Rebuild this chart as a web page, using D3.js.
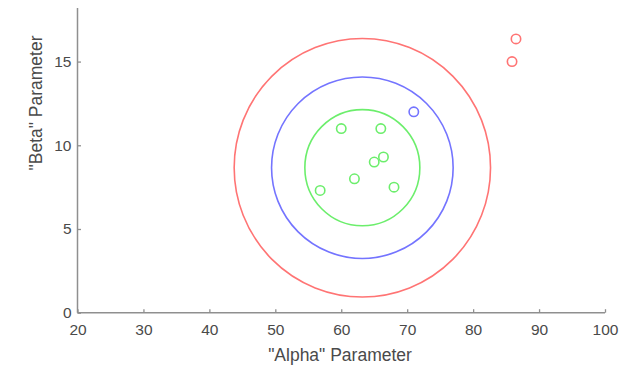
<!DOCTYPE html>
<html>
<head>
<meta charset="utf-8">
<script src="https://cdn.jsdelivr.net/npm/d3@7"></script>
<style>
  html, body { margin: 0; padding: 0; background: #fff; }
  svg { display: block; font-family: "Liberation Sans", Arial, sans-serif; }
</style>
</head>
<body>
<svg id="chart" width="628" height="365"></svg>
<script>
// Sample points, grouped by the contour they fall inside
const greenAlpha = [60.0, 66.0, 66.4, 65.0, 62.0, 56.8, 68.0];
const greenBeta  = [11.0, 11.0, 9.3, 9.0, 8.0, 7.3, 7.5];
const blueAlpha  = [71.0];
const blueBeta   = [12.0];
const redAlpha   = [86.5, 85.9];
const redBeta    = [16.35, 15.0];

// Contour ellipses around the mean (alpha, beta)
const centerAlpha = 63.2;
const centerBeta  = 8.66;
const ringNames   = ["green", "blue", "red"];
const ringAlphaRadius = [8.72, 13.77, 19.44];
const ringBetaRadius  = [3.47, 5.42, 7.72];

// Axis ticks
const xTicks = [20, 30, 40, 50, 60, 70, 80, 90, 100];
const yTicks = [0, 5, 10, 15];

const colors = { red: "#ff7474", blue: "#7474ff", green: "#6cee6c" };

const svg = d3.select("#chart");
const x = d3.scaleLinear().domain([20, 100]).range([77.5, 605]);
const y = d3.scaleLinear().domain([0, 18.2]).range([312.7, 8]);

const axisColor = "#8f8f8f";
const textColor = "#4a4a4a";

// X axis (ticks point into the plot)
const gx = svg.append("g")
  .attr("transform", `translate(0,${y(0)})`)
  .call(d3.axisBottom(x).tickValues(xTicks).tickSize(-3.5).tickPadding(9).tickFormat(d3.format("d")));
gx.select(".domain").attr("stroke", axisColor).attr("stroke-width", 1.5).attr("d", `M${x(20)},0H${x(100)}`);
gx.selectAll(".tick line").attr("stroke", axisColor).attr("stroke-width", 1.3);
gx.selectAll(".tick text").attr("fill", textColor).attr("font-size", "15.5px").attr("dy", "0.75em")
  .attr("y", 11);

// Y axis
const gy = svg.append("g")
  .attr("transform", `translate(${x(20)},0)`)
  .call(d3.axisLeft(y).tickValues(yTicks).tickSize(-3.5).tickPadding(6).tickFormat(d3.format("d")));
gy.select(".domain").attr("stroke", axisColor).attr("stroke-width", 1.5).attr("d", `M0,${y(0)}V${y.range()[1]}`);
gy.selectAll(".tick line").attr("stroke", axisColor).attr("stroke-width", 1.3);
gy.selectAll(".tick text").attr("fill", textColor).attr("font-size", "15.5px").attr("x", -6);

// Axis titles
svg.append("text")
  .attr("x", 340).attr("y", 360.5)
  .attr("text-anchor", "middle")
  .attr("fill", textColor).attr("font-size", "17.5px")
  .text("\"Alpha\" Parameter");

svg.append("text")
  .attr("transform", "translate(42,103) rotate(-90)")
  .attr("text-anchor", "middle")
  .attr("fill", textColor).attr("font-size", "17.5px")
  .text("\"Beta\" Parameter");

// Contour ellipses
svg.append("g").selectAll("ellipse")
  .data(ringNames.map((n, i) => ({ name: n, ra: ringAlphaRadius[i], rb: ringBetaRadius[i] })))
  .join("ellipse")
  .attr("cx", x(centerAlpha))
  .attr("cy", y(centerBeta))
  .attr("rx", d => x(centerAlpha + d.ra) - x(centerAlpha))
  .attr("ry", d => y(centerBeta - d.rb) - y(centerBeta))
  .attr("fill", "none")
  .attr("stroke", d => colors[d.name])
  .attr("stroke-width", 1.6);

// Sample markers
const groups = [
  { name: "green", a: greenAlpha, b: greenBeta },
  { name: "blue",  a: blueAlpha,  b: blueBeta },
  { name: "red",   a: redAlpha,   b: redBeta }
];
groups.forEach(g => {
  svg.append("g").selectAll("circle")
    .data(g.a.map((a, i) => [a, g.b[i]]))
    .join("circle")
    .attr("cx", d => x(d[0]))
    .attr("cy", d => y(d[1]))
    .attr("r", 4.7)
    .attr("fill", "none")
    .attr("stroke", colors[g.name])
    .attr("stroke-width", 1.6);
});
</script>
</body>
</html>
